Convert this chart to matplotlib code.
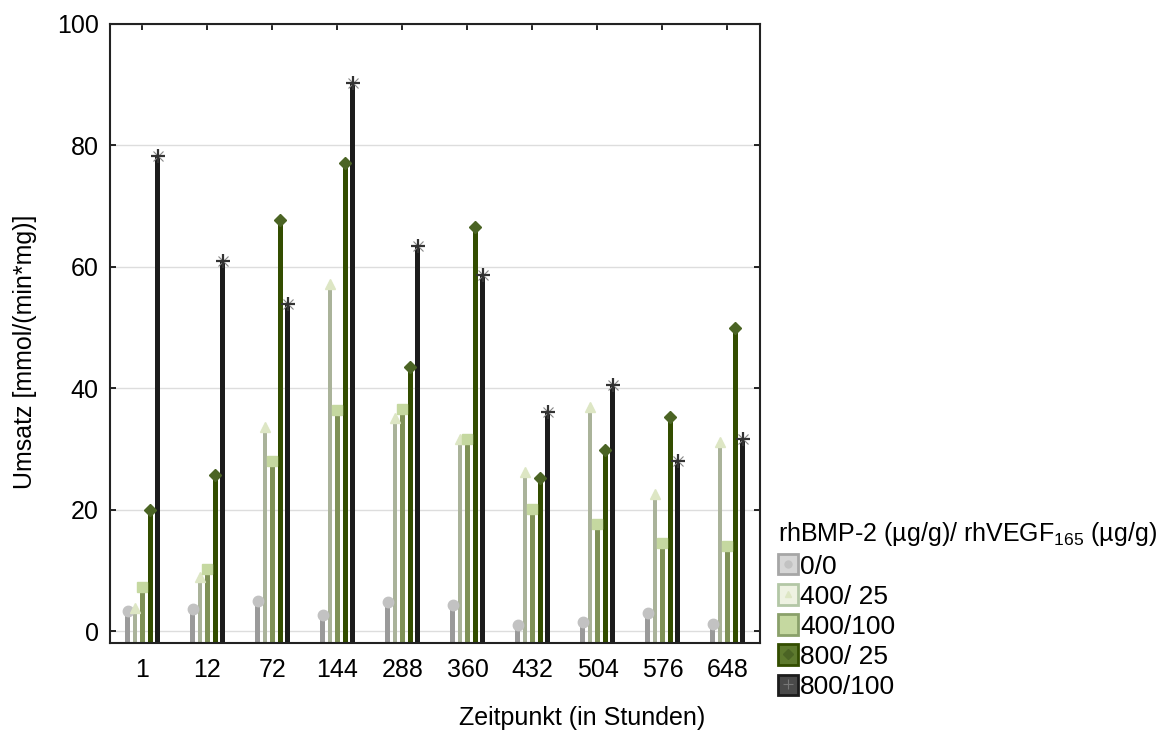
import numpy as np
import matplotlib
matplotlib.use("Agg")
import matplotlib.pyplot as plt
from matplotlib.patches import Patch
from matplotlib.lines import Line2D

plt.rcParams['font.family'] = ['Liberation Sans', 'DejaVu Sans']
plt.rcParams['mathtext.default'] = 'regular'

timepoints = ["1", "12", "72", "144", "288", "360", "432", "504", "576", "648"]
groups = ["0/0", "400/ 25", "400/100", "800/ 25", "800/100"]

v_0_0 = [3.4, 3.7, 5.0, 2.7, 4.9, 4.3, 1.1, 1.6, 3.0, 1.2]
v_400_25 = [3.8, 9.0, 33.7, 57.2, 35.1, 31.7, 26.2, 37.0, 22.6, 31.2]
v_400_100 = [7.3, 10.3, 28.1, 36.4, 36.6, 31.6, 20.1, 17.7, 14.5, 14.0]
v_800_25 = [20.0, 25.8, 67.8, 77.1, 43.5, 66.6, 25.3, 29.8, 35.3, 50.0]
v_800_100 = [78.3, 60.9, 53.9, 90.3, 63.4, 58.7, 36.2, 40.6, 28.0, 31.7]
values = [v_0_0, v_400_25, v_400_100, v_800_25, v_800_100]

bar_colors = ["#9a9a9a", "#aab39a", "#7f9157", "#334d00", "#1c1c1c"]
mk_colors = ["#c2c2c2", "#dde6c4", "#c5d8a0", "#4b6424", "#333333"]
markers = ["o", "^", "s", "D", "+"]
mk_sizes = [7.5, 7.5, 7.5, 6.5, 9]
offsets = [-0.23, -0.112, 0.0, 0.123, 0.235]
widths = [0.064, 0.064, 0.064, 0.07, 0.077]

leg_face = ["#d6d6d6", "#eef2e2", "#c5d8a0", "#5e7a2e", "#4a4a4a"]
leg_edge = ["#a6a6a6", "#b3c7a6", "#8aa06a", "#334d00", "#1c1c1c"]

ymin = -1.9
x = np.arange(len(timepoints))

fig = plt.figure(figsize=(11.66, 7.31), dpi=100)
ax = fig.add_axes([0.0943, 0.1204, 0.5575, 0.8468])

for i in range(5):
    vals = np.array(values[i])
    ax.bar(x + offsets[i], vals - ymin, bottom=ymin, width=widths[i],
           color=bar_colors[i], zorder=2)
    if markers[i] == "+":
        ax.plot(x + offsets[i], vals, linestyle="none", marker="x",
                markersize=7, mew=0.8, color="#888888", zorder=3)
        ax.plot(x + offsets[i], vals, linestyle="none", marker="+",
                markersize=10, mew=1.6, color="#333333", zorder=4)
    else:
        ax.plot(x + offsets[i], vals, linestyle="none", marker=markers[i],
                markersize=mk_sizes[i], color=mk_colors[i], mec=mk_colors[i],
                zorder=3)

ax.set_xlim(-0.5, 9.5)
ax.set_ylim(ymin, 100)
ax.set_yticks([0, 20, 40, 60, 80, 100])
ax.set_xticks(x)
ax.set_xticklabels(timepoints)
ax.yaxis.grid(True, color="#dddddd", lw=1, zorder=0)
ax.set_axisbelow(True)
ax.tick_params(direction="in", length=4, width=1.2, labelsize=18,
               top=True, right=True, pad=8)
ax.tick_params(axis="x", pad=11)
for s in ax.spines.values():
    s.set_linewidth(1.5)
    s.set_color("#222222")

ax.set_ylabel("Umsatz [mmol/(min*mg)]", fontsize=18)
ax.yaxis.set_label_coords(-0.112, 0.47)
fig.text(0.4995, 0.018, "Zeitpunkt (in Stunden)", fontsize=18, ha="center",
         va="center")

handles = []
for i in range(5):
    p = Patch(facecolor=leg_face[i], edgecolor=leg_edge[i], lw=2)
    if markers[i] == "+":
        m = Line2D([], [], linestyle="none", marker="+", markersize=7,
                   mew=0.8, color="#777777")
    else:
        m = Line2D([], [], linestyle="none", marker=markers[i], markersize=5,
                   color=mk_colors[i] if i != 2 else leg_face[i])
    handles.append((p, m))

leg = fig.legend(handles, groups, loc="upper left",
                 bbox_to_anchor=(0.667, 0.288), frameon=False, fontsize=19,
                 title="rhBMP-2 (µg/g)/ rhVEGF$_{165}$ (µg/g)",
                 title_fontsize=18, handlelength=0.75, handleheight=0.8,
                 handletextpad=0.1, labelspacing=0.22, borderpad=0,
                 borderaxespad=0)
leg._legend_box.align = "left"

fig.savefig("out.png", dpi=100)
